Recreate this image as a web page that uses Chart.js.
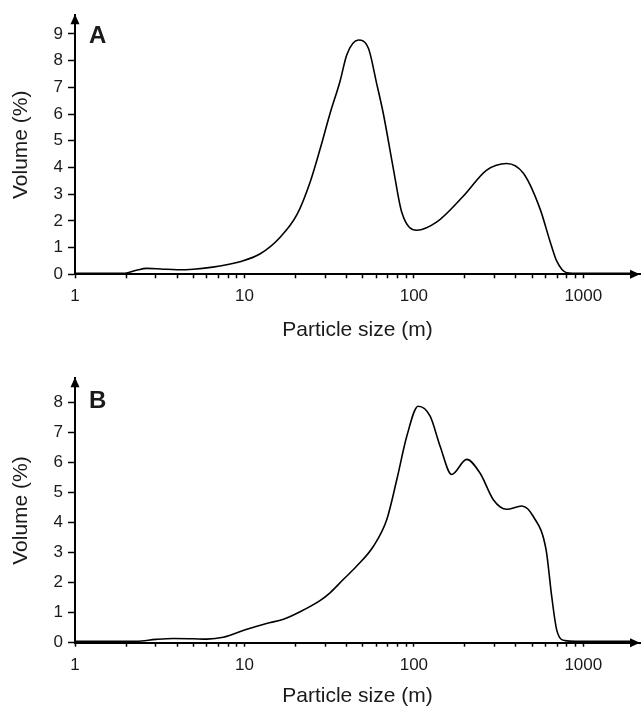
<!DOCTYPE html>
<html>
<head>
<meta charset="utf-8">
<script src="https://cdn.jsdelivr.net/npm/chart.js@4.4.1/dist/chart.umd.min.js"></script>
<style>
  body { margin: 0; background: #fff; }
  #wrap { position: relative; width: 641px; height: 710px; }
  canvas { position: absolute; left: 0; }
</style>
</head>
<body>
<div id="wrap">
  <canvas id="chart-a" width="641" height="345" style="top:0"></canvas>
  <canvas id="chart-b" width="641" height="365" style="top:345px"></canvas>
</div>
<script>
// panel A: particle size (m) vs volume (%)
const sizesA = [1, 1.97, 2.3, 2.65, 3.2, 4, 5, 6.5, 8, 9.4, 12.4, 16.2, 20.4, 24.4, 27.9, 32, 36.7, 40.2, 47, 53.9, 60.4, 66, 75.7, 84.8, 104, 136, 196, 269, 353, 443, 556, 637, 697, 798, 956, 2000];
const volumeA = [0.04, 0.04, 0.15, 0.22, 0.2, 0.17, 0.19, 0.27, 0.37, 0.47, 0.77, 1.38, 2.23, 3.45, 4.67, 6.02, 7.24, 8.22, 8.77, 8.46, 7.12, 6.02, 3.94, 2.32, 1.65, 1.95, 2.93, 3.9, 4.15, 3.78, 2.44, 1.22, 0.49, 0.06, 0.04, 0.04];

// panel B
const sizesB = [1, 2.31, 3, 3.8, 5, 6, 7.5, 10, 13.5, 17, 21.3, 27.9, 32, 38.4, 46, 57.7, 69.2, 79.3, 90.8, 106, 124.7, 142.8, 167, 205, 246, 295, 353, 433, 507, 603, 651, 697, 780, 900, 2000];
const volumeB = [0.05, 0.05, 0.11, 0.14, 0.13, 0.12, 0.18, 0.42, 0.64, 0.78, 1.03, 1.4, 1.66, 2.11, 2.55, 3.21, 4.1, 5.43, 6.87, 7.87, 7.54, 6.54, 5.6, 6.1, 5.64, 4.75, 4.44, 4.55, 4.2, 3.09, 1.53, 0.42, 0.07, 0.05, 0.05];

const xLabels = [1, 10, 100, 1000];
const yTicksA = [0, 1, 2, 3, 4, 5, 6, 7, 8, 9];
const yTicksB = [0, 1, 2, 3, 4, 5, 6, 7, 8];

const X_MAX = 2160;
const FONT = '"Liberation Sans", Arial, Helvetica, sans-serif';
const TEXT = '#1a1a1a';

Chart.defaults.font.family = FONT;

// minor ticks 1..9 in each decade, up to 1000
const xTickValues = [];
for (let d = 1; d < 1000; d *= 10) {
  for (let k = 1; k < 10; k++) xTickValues.push(k * d);
}
xTickValues.push(1000);

const axisArrows = {
  id: 'axisArrows',
  afterDraw(chart, args, opts) {
    const { ctx, chartArea: a } = chart;
    ctx.save();
    ctx.fillStyle = '#000';
    ctx.beginPath();
    ctx.moveTo(a.left, a.top - 1);
    ctx.lineTo(a.left - 4.5, a.top + 9);
    ctx.lineTo(a.left + 4.5, a.top + 9);
    ctx.closePath();
    ctx.fill();
    ctx.beginPath();
    ctx.moveTo(a.right, a.bottom);
    ctx.lineTo(a.right - 10, a.bottom - 4.5);
    ctx.lineTo(a.right - 10, a.bottom + 4.5);
    ctx.closePath();
    ctx.fill();
    ctx.fillStyle = TEXT;
    ctx.font = 'bold 24px ' + FONT;
    ctx.textBaseline = 'alphabetic';
    ctx.fillText(opts.letter, 89, opts.letterY);
    ctx.restore();
  }
};

function panel(canvasId, sizes, volume, p) {
  return new Chart(document.getElementById(canvasId), {
    type: 'line',
    data: {
      datasets: [{
        data: sizes.map((s, i) => ({ x: s, y: volume[i] })),
        borderColor: '#000',
        borderWidth: 1.6,
        pointRadius: 0,
        fill: false,
        cubicInterpolationMode: 'monotone',
      }],
    },
    options: {
      responsive: false,
      animation: false,
      layout: { padding: { top: p.top, right: 1, left: 0, bottom: 0 } },
      plugins: {
        legend: { display: false },
        tooltip: { enabled: false },
        axisArrows: { letter: p.letter, letterY: p.letterY },
      },
      scales: {
        x: {
          type: 'logarithmic',
          min: 1,
          max: X_MAX,
          afterBuildTicks: s => { s.ticks = xTickValues.map(v => ({ value: v })); },
          afterFit: s => { s.height = p.xHeight; },
          grid: { drawOnChartArea: false, tickLength: 4, tickColor: '#000', tickWidth: 1.5 },
          border: { color: '#000', width: 2 },
          ticks: {
            color: TEXT,
            font: { size: 17 },
            padding: 8,
            autoSkip: false,
            maxRotation: 0,
            callback: v => xLabels.includes(v) ? String(v) : '',
          },
          title: {
            display: true,
            text: 'Particle size (m)',
            color: TEXT,
            font: { size: 21 },
            padding: { top: 0, bottom: p.titlePad },
          },
        },
        y: {
          min: 0,
          max: p.yMax,
          afterBuildTicks: s => { s.ticks = p.yTicks.map(v => ({ value: v })); },
          afterFit: s => { s.width = 75; },
          grid: { drawOnChartArea: false, tickLength: 7, tickColor: '#000', tickWidth: 1.5 },
          border: { color: '#000', width: 2 },
          ticks: { color: TEXT, font: { size: 17 }, padding: 5 },
          title: {
            display: true,
            text: 'Volume (%)',
            color: TEXT,
            font: { size: 21 },
            padding: { top: 9, bottom: 0 },
          },
        },
      },
    },
    plugins: [axisArrows],
  });
}

panel('chart-a', sizesA, volumeA, {
  top: 9.5, yMax: 9.7, yTicks: yTicksA, xHeight: 70.7, titlePad: 2.5, letter: 'A', letterY: 43,
});
panel('chart-b', sizesB, volumeB, {
  top: 33.3, yMax: 8.8, yTicks: yTicksB, xHeight: 67.3, titlePad: 1.5, letter: 'B', letterY: 63,
});
</script>
</body>
</html>
